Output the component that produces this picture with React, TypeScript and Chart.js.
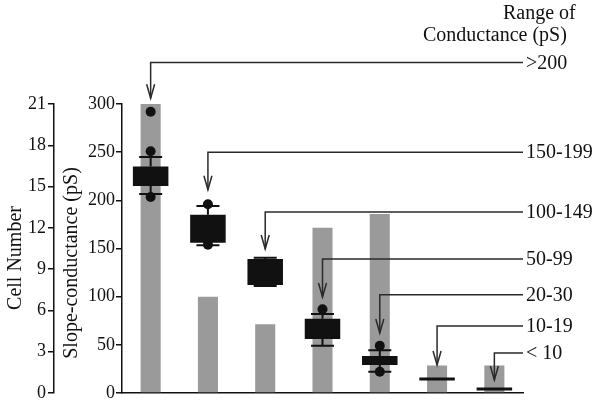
import React, { useEffect, useRef } from "react";
import { Chart, registerables } from "chart.js";

Chart.register(...registerables);

const categories = [">200", "150-199", "100-149", "50-99", "20-30", "10-19", "< 10"];
const cellCounts = [21, 7, 5, 12, 13, 2, 2];
const boxLow = [215, 156, 112, 56, 29, 13, 2.7];
const boxHigh = [235, 185, 139, 77, 38.5, 16, 5.7];
const whiskerLow = [206.5, 153.5, 111, 49, 22, null, null];
const whiskerHigh = [245, 194, 140.5, 82, 44.5, null, null];
const outliers: { cat: number; v: number }[] = [
  { cat: 0, v: 292 }, { cat: 0, v: 251 }, { cat: 0, v: 203.5 },
  { cat: 1, v: 196 }, { cat: 1, v: 154 },
  { cat: 3, v: 87 },
  { cat: 4, v: 49 }, { cat: 4, v: 22 },
];
const arrowLevel = [343, 250, 188, 139, 102, 69.6, 41.5];
const arrowTip = [306, 211, 149.5, 99.7, 62.3, 29, 13.5];
const cellTicks = [0, 3, 6, 9, 12, 15, 18, 21];
const psTicks = [0, 50, 100, 150, 200, 250, 300];

const FONT = '"Liberation Serif", "Times New Roman", serif';

const overlay = {
  id: "overlay",
  afterDatasetDraw(chart: any, args: any) {
    if (args.index !== 1) return;
    const ctx = chart.ctx;
    const xs = chart.scales.x;
    const ys = chart.scales.yPS;
    ctx.save();
    ctx.strokeStyle = "#111";
    ctx.lineWidth = 2;
    categories.forEach((_, i) => {
      const cx = xs.getPixelForValue(i);
      const hi = whiskerHigh[i];
      const lo = whiskerLow[i];
      if (hi != null) {
        const yt = ys.getPixelForValue(boxHigh[i]);
        const yh = ys.getPixelForValue(hi);
        ctx.beginPath();
        ctx.moveTo(cx, yt);
        ctx.lineTo(cx, yh);
        ctx.moveTo(cx - 11.5, yh);
        ctx.lineTo(cx + 11.5, yh);
        ctx.stroke();
      }
      if (lo != null) {
        const yb = ys.getPixelForValue(boxLow[i]);
        const yl = ys.getPixelForValue(lo);
        ctx.beginPath();
        ctx.moveTo(cx, yb);
        ctx.lineTo(cx, yl);
        ctx.moveTo(cx - 11.5, yl);
        ctx.lineTo(cx + 11.5, yl);
        ctx.stroke();
      }
    });
    ctx.restore();
  },
  afterDraw(chart: any) {
    const ctx = chart.ctx;
    const xs = chart.scales.x;
    const ys = chart.scales.yPS;
    const area = chart.chartArea;
    ctx.save();
    ctx.strokeStyle = "#2a2a2a";
    ctx.lineWidth = 1.5;
    categories.forEach((label, i) => {
      const cx = xs.getPixelForValue(i);
      const yl = ys.getPixelForValue(arrowLevel[i]);
      const yt = ys.getPixelForValue(arrowTip[i]);
      ctx.beginPath();
      ctx.moveTo(area.right, yl);
      ctx.lineTo(cx, yl);
      ctx.lineTo(cx, yt);
      ctx.stroke();
      ctx.beginPath();
      ctx.moveTo(cx - 4, yt - 14);
      ctx.lineTo(cx, yt);
      ctx.lineTo(cx + 4, yt - 14);
      ctx.stroke();
      ctx.fillStyle = "#111";
      ctx.font = `20px ${FONT}`;
      ctx.textAlign = "left";
      ctx.textBaseline = "middle";
      ctx.fillText(label, area.right + 3, yl + 1);
    });
    ctx.fillStyle = "#111";
    ctx.font = `20px ${FONT}`;
    ctx.textAlign = "left";
    ctx.textBaseline = "middle";
    ctx.fillText("Range of", 503, 14);
    ctx.fillText("Conductance (pS)", 423, 36);
    ctx.textAlign = "center";
    ctx.save();
    ctx.translate(16, 258);
    ctx.rotate(-Math.PI / 2);
    ctx.fillText("Cell Number", 0, 0);
    ctx.restore();
    ctx.save();
    ctx.translate(72, 263);
    ctx.rotate(-Math.PI / 2);
    ctx.fillText("Slope-conductance (pS)", 0, 0);
    ctx.restore();
    ctx.restore();
  },
};

export default function App() {
  const ref = useRef<HTMLCanvasElement | null>(null);
  useEffect(() => {
    if (!ref.current) return;
    const chart = new Chart(ref.current, {
      type: "bar",
      data: {
        labels: categories,
        datasets: [
          {
            type: "line",
            label: "outliers",
            data: outliers.map((o) => ({ x: categories[o.cat], y: o.v })) as any,
            yAxisID: "yPS",
            showLine: false,
            pointRadius: 5,
            pointBackgroundColor: "#111",
            pointBorderColor: "#111",
            pointBorderWidth: 0,
            order: 0,
          } as any,
          {
            type: "bar",
            label: "box",
            data: boxLow.map((l, i) => [l, boxHigh[i]]) as any,
            yAxisID: "yPS",
            backgroundColor: "#111",
            barPercentage: 0.62,
            categoryPercentage: 1,
            grouped: false,
            order: 1,
          } as any,
          {
            type: "bar",
            label: "cells",
            data: cellCounts,
            yAxisID: "yCell",
            backgroundColor: "#9a9a9a",
            barPercentage: 0.35,
            categoryPercentage: 1,
            grouped: false,
            order: 2,
          } as any,
        ],
      },
      options: {
        animation: false,
        responsive: true,
        maintainAspectRatio: false,
        layout: { padding: { top: 104, right: 77, bottom: 11, left: 0 } },
        plugins: { legend: { display: false }, tooltip: { enabled: false } },
        scales: {
          x: {
            type: "category",
            offset: true,
            grid: { display: false, drawTicks: false },
            ticks: { display: false },
            border: { display: true, color: "#111", width: 1.5 },
            afterFit: (s: any) => { s.height = 0; },
          },
          yCell: {
            position: "left",
            weight: 1,
            min: 0,
            max: 21,
            afterBuildTicks: (s: any) => { s.ticks = cellTicks.map((v) => ({ value: v })); },
            ticks: { font: { family: FONT, size: 18, lineHeight: 1 }, color: "#111", padding: 2 },
            grid: { display: true, drawOnChartArea: false, drawTicks: true, tickLength: 6, color: "#111", lineWidth: 1.5 },
            border: { display: true, color: "#111", width: 1.5 },
            afterFit: (s: any) => { s.width = 54; },
          },
          yPS: {
            position: "left",
            weight: 0,
            min: 0,
            max: 300,
            afterBuildTicks: (s: any) => { s.ticks = psTicks.map((v) => ({ value: v })); },
            ticks: { font: { family: FONT, size: 18, lineHeight: 1 }, color: "#111", padding: 1 },
            grid: { display: true, drawOnChartArea: false, drawTicks: true, tickLength: 6, color: "#111", lineWidth: 1.5 },
            border: { display: true, color: "#111", width: 1.5 },
            afterFit: (s: any) => { s.width = 68; },
          },
        },
      },
      plugins: [overlay],
    });
    return () => chart.destroy();
  }, []);
  return (
    <div style={{ position: "absolute", left: 0, top: 0, width: 600, height: 404, background: "#fff" }}>
      <canvas ref={ref} />
    </div>
  );
}
